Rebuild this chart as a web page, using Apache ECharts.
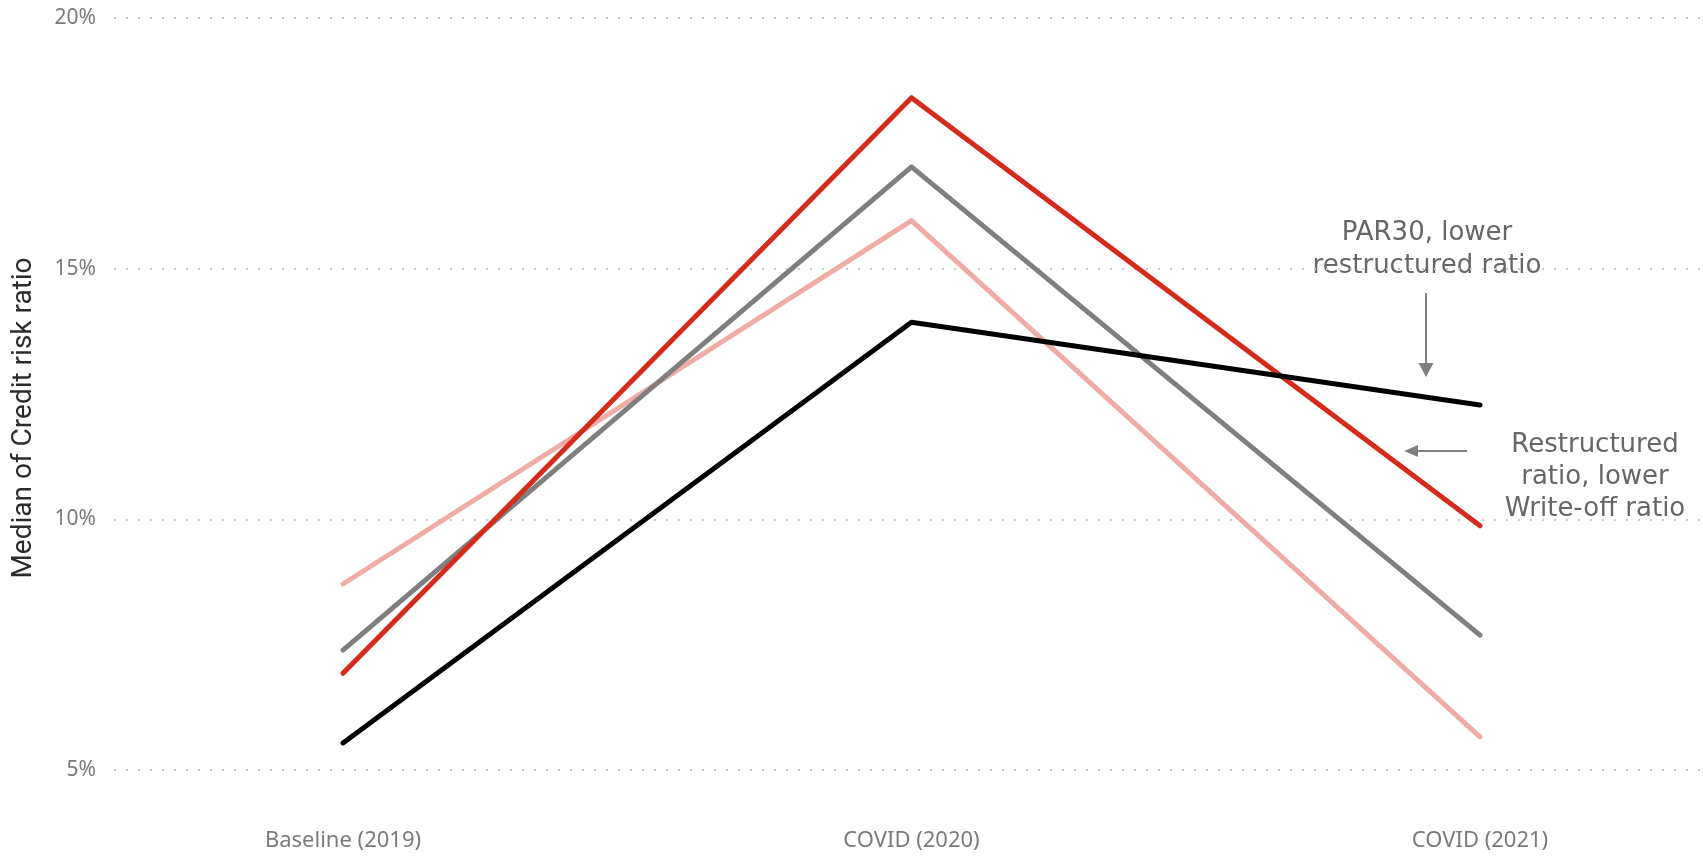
<!DOCTYPE html>
<html>
<head>
<meta charset="utf-8">
<script src="https://cdn.jsdelivr.net/npm/echarts@6/dist/echarts.min.js"></script>
<style>
  html, body { margin: 0; padding: 0; background: #ffffff; }
  #chart { width: 1703px; height: 857px; }
</style>
</head>
<body>
<div id="chart"></div>
<script>
// Periods on the x axis
const categories = ['Baseline (2019)', 'COVID (2020)', 'COVID (2021)'];

// Median credit risk ratios (%) per group
const seriesNames = ['Pink group', 'Gray group', 'Red group', 'Black group'];
const pinkValues  = [8.71, 15.96, 5.66];
const grayValues  = [7.39, 17.03, 7.69];
const redValues   = [6.93, 18.41, 9.87];
const blackValues = [5.54, 13.93, 12.28];

// Value-axis ticks
const yTicks = [5, 10, 15, 20];

const GRID_TOP = 18;
const GRID_BOTTOM = 87;

const chart = echarts.init(document.getElementById('chart'), null, { renderer: 'canvas' });

const lineSeries = (name, data, color, z) => ({
  name: name,
  type: 'line',
  xAxisIndex: 1,
  yAxisIndex: 1,
  data: data,
  symbol: 'none',
  z: z,
  lineStyle: { color: color, width: 5, cap: 'round', join: 'round' },
  emphasis: { disabled: true }
});

const tickFont = '"Noto Sans", "Open Sans", sans-serif';
const annoFont = '"DejaVu Sans", "Open Sans", sans-serif';

chart.setOption({
  animation: false,
  backgroundColor: '#ffffff',
  grid: [
    // wide grid carrying the dotted gridlines and the tick labels
    { left: 114, right: 0, top: GRID_TOP, bottom: GRID_BOTTOM },
    // inner grid where the three periods are placed
    { left: 343, right: 223, top: GRID_TOP, bottom: GRID_BOTTOM }
  ],
  xAxis: [
    { gridIndex: 0, type: 'category', data: categories, show: false },
    {
      gridIndex: 1,
      type: 'category',
      data: categories,
      boundaryGap: false,
      axisLine: { show: false },
      axisTick: { show: false },
      splitLine: { show: false },
      axisLabel: {
        margin: 60,
        color: '#7a7a7a',
        fontSize: 22,
        fontFamily: tickFont
      }
    }
  ],
  yAxis: [
    {
      gridIndex: 0,
      type: 'value',
      min: yTicks[0],
      max: yTicks[yTicks.length - 1],
      interval: yTicks[1] - yTicks[0],
      axisLine: { show: false },
      axisTick: { show: false },
      axisLabel: {
        margin: 18,
        color: '#7a7a7a',
        fontSize: 21,
        fontFamily: tickFont,
        formatter: v => v + '%'
      },
      splitLine: {
        show: true,
        lineStyle: { color: '#c9c9c9', width: 2, type: [2, 10] }
      }
    },
    {
      gridIndex: 1,
      type: 'value',
      min: yTicks[0],
      max: yTicks[yTicks.length - 1],
      interval: yTicks[1] - yTicks[0],
      show: false,
      splitLine: { show: false }
    }
  ],
  series: [
    lineSeries(seriesNames[0], pinkValues,  '#efaca6', 2),
    lineSeries(seriesNames[1], grayValues,  '#7f7f7f', 3),
    lineSeries(seriesNames[2], redValues,   '#d42b1c', 4),
    lineSeries(seriesNames[3], blackValues, '#000000', 5)
  ],
  graphic: [
    // y-axis title
    {
      type: 'text',
      x: 24, y: 418,
      rotation: Math.PI / 2,
      style: {
        text: 'Median of Credit risk ratio',
        fill: '#2b2b2b',
        font: '28px Roboto, "Noto Sans", sans-serif',
        textAlign: 'center',
        textVerticalAlign: 'middle'
      }
    },
    // note above the black line
    {
      type: 'text',
      x: 1427, y: 250,
      style: {
        text: 'PAR30, lower\nrestructured ratio',
        fill: '#666666',
        font: '26px ' + annoFont,
        lineHeight: 33,
        textAlign: 'center',
        textVerticalAlign: 'middle'
      }
    },
    {
      type: 'line',
      shape: { x1: 1426, y1: 293, x2: 1426, y2: 365 },
      style: { stroke: '#808080', lineWidth: 2 }
    },
    {
      type: 'polygon',
      shape: { points: [[1418.5, 363], [1433.5, 363], [1426, 377]] },
      style: { fill: '#808080' }
    },
    // note beside the red line
    {
      type: 'text',
      x: 1595, y: 477,
      style: {
        text: 'Restructured\nratio, lower\nWrite-off ratio',
        fill: '#666666',
        font: '26px ' + annoFont,
        lineHeight: 32,
        textAlign: 'center',
        textVerticalAlign: 'middle'
      }
    },
    {
      type: 'line',
      shape: { x1: 1416, y1: 451, x2: 1467, y2: 451 },
      style: { stroke: '#808080', lineWidth: 2 }
    },
    {
      type: 'polygon',
      shape: { points: [[1404, 451], [1418, 445], [1418, 457]] },
      style: { fill: '#808080' }
    }
  ]
});
</script>
</body>
</html>
